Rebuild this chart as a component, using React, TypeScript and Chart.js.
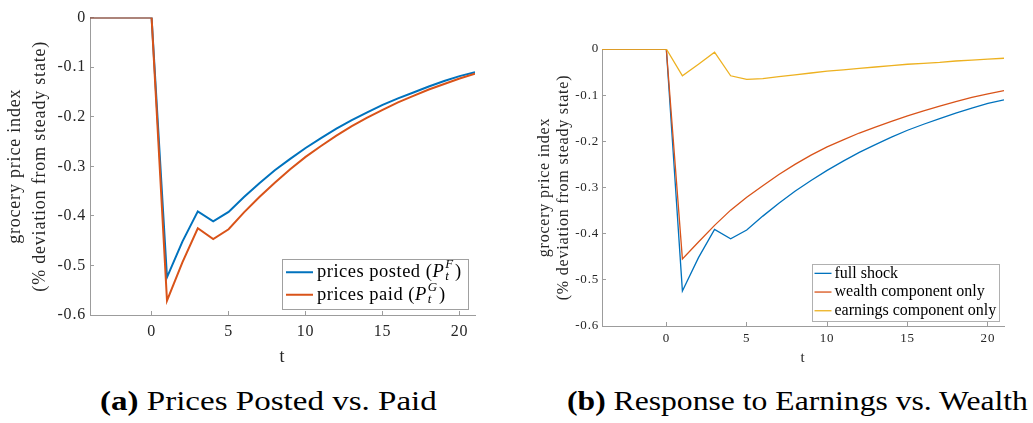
import React, { useEffect, useRef } from "react";
import { Chart, registerables } from "chart.js";
Chart.register(...registerables);

// ---------- data ----------
const periods = [-4, -3, -2, -1, 0, 1, 2, 3, 4, 5, 6, 7, 8, 9, 10, 11, 12, 13, 14, 15, 16, 17, 18, 19, 20, 21];

// panel (a)
const pricesPosted = [0, 0, 0, 0, 0, -0.524, -0.452, -0.391, -0.411, -0.392, -0.362, -0.334, -0.308, -0.285, -0.263, -0.243, -0.224, -0.207, -0.191, -0.176, -0.163, -0.151, -0.139, -0.128, -0.118, -0.110];
const pricesPaid = [0, 0, 0, 0, 0, -0.571, -0.494, -0.425, -0.447, -0.427, -0.393, -0.362, -0.333, -0.306, -0.281, -0.259, -0.238, -0.219, -0.202, -0.186, -0.171, -0.158, -0.145, -0.134, -0.123, -0.113];

// panel (b)
const fullShock = [0, 0, 0, 0, 0, -0.524, -0.452, -0.391, -0.411, -0.392, -0.362, -0.334, -0.308, -0.285, -0.263, -0.243, -0.224, -0.207, -0.191, -0.176, -0.163, -0.151, -0.139, -0.128, -0.118, -0.110];
const wealthOnly = [0, 0, 0, 0, 0, -0.455, -0.418, -0.382, -0.349, -0.321, -0.296, -0.272, -0.250, -0.230, -0.212, -0.197, -0.182, -0.169, -0.157, -0.145, -0.134, -0.124, -0.114, -0.105, -0.097, -0.090];
const earningsOnly = [0, 0, 0, 0, 0, -0.058, -0.033, -0.007, -0.058, -0.066, -0.064, -0.060, -0.056, -0.052, -0.048, -0.045, -0.042, -0.039, -0.036, -0.033, -0.031, -0.029, -0.026, -0.024, -0.022, -0.020];

const seriesLabelsA = ["prices posted (P_t^F)", "prices paid (P_t^G)"];
const seriesLabelsB = ["full shock", "wealth component only", "earnings component only"];

const xTickValues = [0, 5, 10, 15, 20];
const xTickLabels = ["0", "5", "10", "15", "20"];
const yTickValues = [0, -0.1, -0.2, -0.3, -0.4, -0.5, -0.6];
const yTickLabels = ["0", "-0.1", "-0.2", "-0.3", "-0.4", "-0.5", "-0.6"];

const yAxisTitle = ["grocery price index", "(% deviation from steady state)"];
const xAxisTitle = "t";
const captionA = { tag: "(a)", text: "Prices Posted vs. Paid" };
const captionB = { tag: "(b)", text: "Response to Earnings vs. Wealth" };

// ---------- styles ----------
const BLUE = "#0072BD";
const ORANGE = "#D95319";
const YELLOW = "#EDB120";
const AXIS = "#9c9c9c";
const TEXT = "#262626";
const FAMILY = '"Liberation Serif", "Times New Roman", serif';

function drawRich(ctx: CanvasRenderingContext2D, label: string, x: number, cy: number, size: number, measureOnly: boolean): number {
  const m = label.match(/^(.*\()([A-Za-z])_([A-Za-z0-9])\^([A-Za-z0-9])\)$/);
  ctx.textBaseline = "middle";
  ctx.textAlign = "left";
  const normal = `${size}px ${FAMILY}`;
  if (!m) {
    ctx.font = normal;
    if (!measureOnly) ctx.fillText(label, x, cy);
    return ctx.measureText(label).width;
  }
  let cx = x;
  ctx.font = normal;
  if (!measureOnly) ctx.fillText(m[1], cx, cy);
  cx += ctx.measureText(m[1]).width;
  ctx.font = `italic ${size}px ${FAMILY}`;
  if (!measureOnly) ctx.fillText(m[2], cx, cy);
  cx += ctx.measureText(m[2]).width + 1;
  ctx.font = `italic ${size * 0.7}px ${FAMILY}`;
  const subW = ctx.measureText(m[3]).width;
  const supW = ctx.measureText(m[4]).width;
  if (!measureOnly) {
    ctx.fillText(m[3], cx, cy + size * 0.25);
    ctx.fillText(m[4], cx, cy - size * 0.4);
  }
  cx += Math.max(subW, supW) + 1.5;
  ctx.font = normal;
  if (!measureOnly) ctx.fillText(")", cx, cy);
  cx += ctx.measureText(")").width;
  return cx - x;
}

const boxLegend = {
  id: "boxLegend",
  afterDatasetsDraw(chart: any, _args: any, opts: any) {
    if (!opts || !opts.show) return;
    const ctx: CanvasRenderingContext2D = chart.ctx;
    const { right, bottom } = chart.chartArea;
    const ds = chart.data.datasets;
    ctx.save();
    (ctx as any).letterSpacing = (opts.spacing || 0) + "px";
    const widths = ds.map((d: any) => drawRich(ctx, d.label, 0, 0, opts.size, true));
    const textW = Math.max(...widths);
    const boxW = opts.padL + opts.lineLen + opts.gap + textW + opts.padR;
    const boxH = opts.padT + ds.length * opts.rowH + opts.padB;
    const x0 = Math.round(right - opts.margin - boxW);
    const y0 = Math.round(bottom - opts.margin - boxH);
    ctx.fillStyle = "#ffffff";
    ctx.fillRect(x0, y0, boxW, boxH);
    ctx.strokeStyle = opts.edge;
    ctx.lineWidth = 1;
    ctx.strokeRect(x0 + 0.5, y0 + 0.5, Math.round(boxW), Math.round(boxH));
    ds.forEach((d: any, i: number) => {
      const cy = y0 + opts.padT + opts.rowH * (i + 0.5);
      ctx.strokeStyle = d.borderColor;
      ctx.lineWidth = opts.lineWidth;
      ctx.beginPath();
      ctx.moveTo(x0 + opts.padL, cy);
      ctx.lineTo(x0 + opts.padL + opts.lineLen, cy);
      ctx.stroke();
      ctx.fillStyle = "#000000";
      drawRich(ctx, d.label, x0 + opts.padL + opts.lineLen + opts.gap, cy, opts.size, false);
    });
    ctx.restore();
  },
};

const spacingPlugin = {
  id: "spacing",
  beforeDraw(chart: any, _a: any, opts: any) {
    (chart.ctx as any).letterSpacing = (opts && opts.px ? opts.px : 0) + "px";
  },
};

type PanelCfg = {
  series: number[][];
  labels: string[];
  colors: string[];
  lineWidth: number;
  yWidth: number;
  xHeight: number;
  padTop: number;
  padRight: number;
  tickSize: number;
  titleSize: number;
  titleLine: number;
  titlePadTop: number;
  xTitleSize: number;
  xTitlePadBottom: number;
  yTickPad: number;
  xTickPad: number;
  spacing: number;
  legend: any;
};

function makeConfig(p: PanelCfg): any {
  const datasets = p.series.map((arr, i) => ({
    label: p.labels[i],
    data: periods.map((t, j) => ({ x: t, y: arr[j] })),
    borderColor: p.colors[i],
    backgroundColor: p.colors[i],
    borderWidth: p.lineWidth,
    pointRadius: 0,
    tension: 0,
    fill: false,
    order: p.series.length - i,
  }));
  return {
    type: "line",
    data: { datasets },
    plugins: [spacingPlugin, boxLegend],
    options: {
      animation: false,
      responsive: false,
      devicePixelRatio: 1,
      layout: { padding: { top: p.padTop, right: p.padRight, left: 0, bottom: 0 } },
      plugins: {
        legend: { display: false },
        tooltip: { enabled: false },
        boxLegend: { show: true, ...p.legend },
        spacing: { px: p.spacing },
      },
      scales: {
        x: {
          type: "linear",
          min: -4,
          max: 21,
          afterBuildTicks: (s: any) => {
            s.ticks = xTickValues.map((v) => ({ value: v }));
          },
          afterFit: (s: any) => {
            s.height = p.xHeight;
          },
          grid: { drawOnChartArea: false, drawTicks: true, tickLength: -4, color: AXIS, lineWidth: 1 },
          border: { display: true, color: AXIS, width: 1 },
          ticks: {
            padding: p.xTickPad,
            color: TEXT,
            font: { family: FAMILY, size: p.tickSize },
            maxRotation: 0,
            autoSkip: false,
            callback: (v: number) => {
              const k = xTickValues.indexOf(v);
              return k >= 0 ? xTickLabels[k] : "";
            },
          },
          title: {
            display: true,
            text: xAxisTitle,
            color: TEXT,
            font: { family: FAMILY, size: p.xTitleSize },
            padding: { top: 0, bottom: p.xTitlePadBottom },
          },
        },
        y: {
          type: "linear",
          min: -0.6,
          max: 0,
          afterBuildTicks: (s: any) => {
            s.ticks = yTickValues.map((v) => ({ value: v }));
          },
          afterFit: (s: any) => {
            s.width = p.yWidth;
          },
          grid: { drawOnChartArea: false, drawTicks: true, tickLength: -4, color: AXIS, lineWidth: 1 },
          border: { display: true, color: AXIS, width: 1 },
          ticks: {
            padding: p.yTickPad,
            color: TEXT,
            font: { family: FAMILY, size: p.tickSize },
            autoSkip: false,
            callback: (v: number) => {
              let k = -1;
              yTickValues.forEach((t, i) => {
                if (Math.abs(t - v) < 1e-9) k = i;
              });
              return k >= 0 ? yTickLabels[k] : "";
            },
          },
          title: {
            display: true,
            text: yAxisTitle,
            color: TEXT,
            font: { family: FAMILY, size: p.titleSize, lineHeight: p.titleLine / p.titleSize },
            padding: { top: p.titlePadTop, bottom: 0 },
          },
        },
      },
    },
  };
}

function Panel({ cfg, left }: { cfg: PanelCfg; left: number }) {
  const ref = useRef<HTMLCanvasElement | null>(null);
  useEffect(() => {
    if (!ref.current) return;
    const chart = new Chart(ref.current, makeConfig(cfg));
    return () => chart.destroy();
  }, []);
  return (
    <canvas
      ref={ref}
      width={left === 0 ? 520 : 513}
      height={370}
      style={{ position: "absolute", left, top: 0, width: left === 0 ? 520 : 513, height: 370 }}
    />
  );
}

const panelA: PanelCfg = {
  series: [pricesPosted, pricesPaid],
  labels: seriesLabelsA,
  colors: [BLUE, ORANGE],
  lineWidth: 2,
  yWidth: 90,
  xHeight: 55,
  padTop: 9,
  padRight: 45,
  tickSize: 16,
  titleSize: 18,
  titleLine: 25,
  titlePadTop: 2.5,
  xTitleSize: 18,
  xTitlePadBottom: 1.5,
  yTickPad: 8,
  xTickPad: 11,
  spacing: 0.8,
  legend: { size: 18.5, spacing: 0.5, padL: 4, lineLen: 27, gap: 4, padR: 6, padT: 2, rowH: 22.5, padB: 2.5, margin: 7, lineWidth: 2, edge: "#a0a0a0" },
};

const panelB: PanelCfg = {
  series: [fullShock, wealthOnly, earningsOnly],
  labels: seriesLabelsB,
  colors: [BLUE, ORANGE, YELLOW],
  lineWidth: 1.3,
  yWidth: 82,
  xHeight: 44,
  padTop: 49,
  padRight: 29,
  tickSize: 13,
  titleSize: 16,
  titleLine: 19,
  titlePadTop: 15,
  xTitleSize: 15,
  xTitlePadBottom: 2.5,
  yTickPad: 7,
  xTickPad: 9,
  spacing: 0.8,
  legend: { size: 16, spacing: 0, padL: 2.5, lineLen: 17, gap: 3, padR: 3, padT: 0, rowH: 18.7, padB: 1, margin: 5, lineWidth: 1.3, edge: "#b0b0b0" },
};

function Caption({ tag, text, left, scale }: { tag: string; text: string; left: number; scale: number }) {
  return (
    <div
      style={{
        position: "absolute",
        left,
        top: 387,
        fontFamily: FAMILY,
        fontSize: 28,
        lineHeight: "28px",
        color: "#000",
        whiteSpace: "nowrap",
        transform: `scaleX(${scale})`,
        transformOrigin: "left top",
      }}
    >
      <b>{tag}</b> {text}
    </div>
  );
}

export default function App() {
  return (
    <div style={{ position: "absolute", left: 0, top: 0, width: 1033, height: 423, background: "#fff", overflow: "hidden" }}>
      <Panel cfg={panelA} left={0} />
      <Panel cfg={panelB} left={520} />
      <Caption tag={captionA.tag} text={captionA.text} left={100} scale={1.18} />
      <Caption tag={captionB.tag} text={captionB.text} left={567} scale={1.13} />
    </div>
  );
}
